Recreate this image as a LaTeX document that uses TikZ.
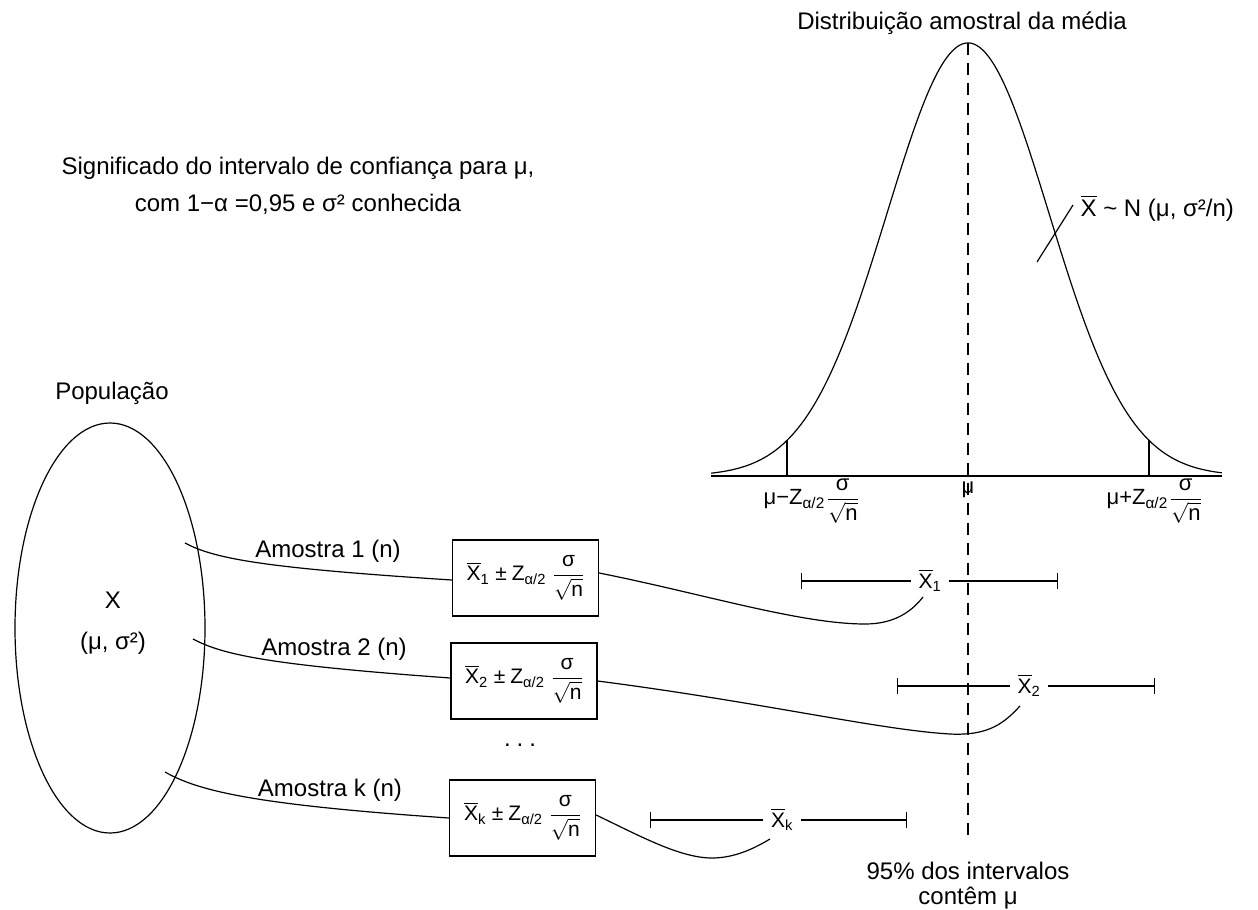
\documentclass[tikz,border=0pt]{standalone}
\usepackage{fontspec}
\setmainfont{Liberation Sans}
\usepackage{amsmath}
\usetikzlibrary{arrows.meta,shapes.geometric}
\newcommand\Xb{\ensuremath{\overline{\hbox{X}}}}
\newcommand\SigN{\ensuremath{\displaystyle\frac{\hbox{σ}}{\sqrt{\hbox{n}}}}}
\begin{document}
\begin{tikzpicture}[x=1pt,y=-1pt,line width=1.2pt,
  lbl/.style={font=\fontsize{24}{28}\selectfont,inner sep=0pt},
  axl/.style={font=\fontsize{22}{26}\selectfont,inner sep=0pt},
  mlbl/.style={font=\fontsize{21}{25}\selectfont,inner xsep=7pt,inner ysep=0pt},
  box/.style={draw,minimum width=146pt,minimum height=76pt,inner sep=0pt,font=\fontsize{21}{25}\selectfont},
  ivl/.style={{Bar[width=16pt]}-},
  ivr/.style={-{Bar[width=16pt]}},
  conn/.style={line width=1.2pt}]
\useasboundingbox (0,0) rectangle (1258,910);

% titles
\node[lbl] (title) at (962,23) {Distribuição amostral da média};
\node[lbl,anchor=base] (sig1) at (298,174) {Significado do intervalo de confiança para μ,};
\node[lbl,anchor=base] (sig2) at (298,211) {com 1−α =0,95 e σ² conhecida};

% normal curve
\draw plot[domain=-3.173:3.136,samples=200,smooth] ({968+81*\x},{476-433*exp(-(\x*\x)/2)});
\draw (711,476) -- (1222,476);
\draw (787,440.4) -- (787,476);
\draw (1149,440.4) -- (1149,476);
\coordinate (peak) at (968,43);
\coordinate (dend) at (968,842);
\draw[dash pattern=on 12pt off 8pt] (peak) -- (dend);

\node[axl,anchor=north west] (lo) at (763,478) {μ−Z\textsubscript{α/2}\hspace{2pt}\SigN};
\node[axl,anchor=north] (mu) at (968,481) {μ};
\node[axl,anchor=north west] (hi) at (1106,478) {μ+Z\textsubscript{α/2}\hspace{2pt}\SigN};

\node[lbl,anchor=west] (dist) at (1080,208) {\Xb{} \textasciitilde{} N (μ, σ²/n)};
\coordinate (ld) at (1037,262);
\draw (ld) -- ([shift={(-7,-3)}]dist.west);

% population
\node[lbl] (pop) at (112,393) {População};
\node[draw,ellipse,minimum width=190pt,minimum height=410pt,inner sep=0pt] (popel) at (110,628) {};
\node[lbl] (X) at (113,600) {X};
\node[lbl] (par) at (113,643) {(μ, σ²)};

% boxes
\node[box] (b1) at (525.5,578) {\Xb\textsubscript{1}\hspace{6pt}±\hspace{5pt}Z\textsubscript{α/2}\hspace{7pt}\SigN};
\node[box] (b2) at (524,681) {\Xb\textsubscript{2}\hspace{6pt}±\hspace{5pt}Z\textsubscript{α/2}\hspace{7pt}\SigN};
\node[box] (bk) at (522.5,818) {\Xb\textsubscript{k}\hspace{6pt}±\hspace{5pt}Z\textsubscript{α/2}\hspace{7pt}\SigN};
\node[lbl] (dots) at (520,745) {.\hspace{6pt}.\hspace{6pt}.};

% sample lines
\coordinate (s1) at (185,543);
\coordinate (s2) at (193,639);
\coordinate (sk) at (165,772);
\draw[conn] (s1) .. controls (215,559) and (265,568) .. ([yshift=-2pt]b1.west);
\draw[conn] (s2) .. controls (223,655) and (270,665) .. ([yshift=3pt]b2.west);
\draw[conn] (sk) .. controls (200,792) and (260,805) .. (bk.west);
\node[lbl] (a1) at (328,551) {Amostra 1 (n)};
\node[lbl] (a2) at (334,649) {Amostra 2 (n)};
\node[lbl] (ak) at (330,790) {Amostra k (n)};

% intervals
\node[mlbl,anchor=base] (m1) at (930,588) {\Xb\textsubscript{1}};
\coordinate (i1l) at (801,581);
\coordinate (i1r) at (1058,581);
\draw[ivl] (i1l) -- (m1.west |- i1l);
\draw[ivr] (m1.east |- i1r) -- (i1r);

\node[mlbl,anchor=base] (m2) at (1029,693) {\Xb\textsubscript{2}};
\coordinate (i2l) at (897,686);
\coordinate (i2r) at (1155,686);
\draw[ivl] (i2l) -- (m2.west |- i2l);
\draw[ivr] (m2.east |- i2r) -- (i2r);

\node[mlbl,anchor=base] (mk) at (782,827) {\Xb\textsubscript{k}};
\coordinate (ikl) at (650,820);
\coordinate (ikr) at (907,820);
\draw[ivl] (ikl) -- (mk.west |- ikl);
\draw[ivr] (mk.east |- ikr) -- (ikr);

% connectors from boxes to means
\coordinate (c1) at (923,597);
\coordinate (c2) at (1020,706);
\coordinate (ck) at (770,839);
\draw[conn] ([yshift=5pt]b1.east) .. controls (700,593) and (800,624) .. (865,624) .. controls (895,624) and (912,611) .. (c1);
\draw[conn] (b2.east) .. controls (760,702) and (880,730) .. (950,734) .. controls (990,736) and (1005,722) .. (c2);
\draw[conn] ([yshift=3pt]bk.east) .. controls (640,836) and (680,858) .. (712,858) .. controls (735,858) and (755,848) .. (ck);

\node[lbl] (p95) at (968,871) {95\% dos intervalos};
\node[lbl] (cont) at (968,898) {contêm μ};
\end{tikzpicture}
\end{document}
